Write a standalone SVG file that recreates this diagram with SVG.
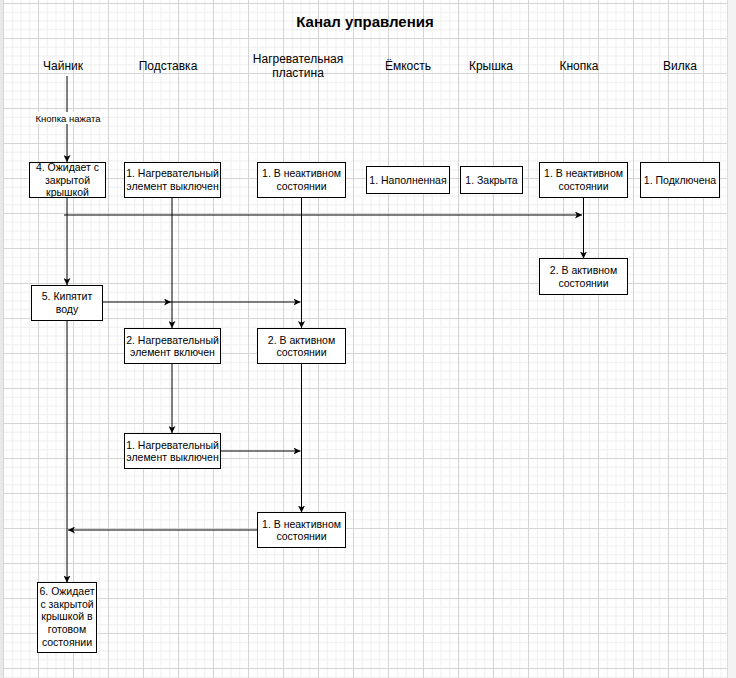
<svg xmlns="http://www.w3.org/2000/svg" width="736" height="678" viewBox="0 0 736 678">
  <style>
    text { font-family: "Liberation Sans", Arial, sans-serif; fill: #000; }
    .title { font-size: 15px; font-weight: bold; text-anchor: middle; }
    .lane { font-size: 12px; text-anchor: middle; }
    .box rect { fill: #fff; stroke: #000; stroke-width: 1; }
    .box text { font-size: 10.5px; text-anchor: middle; }
    .edge { fill: none; stroke: #000; stroke-width: 1; marker-end: url(#arrow); }
    .lbl { font-size: 9.5px; text-anchor: middle; }
  </style>
  <defs>
    <pattern id="grid" x="3" y="3" width="35" height="35" patternUnits="userSpaceOnUse">
      <path d="M9.25,0 V35 M18,0 V35 M26.75,0 V35 M0,9.25 H35 M0,18 H35 M0,26.75 H35" stroke="#efefef" stroke-width="1" fill="none"/>
      <path d="M0.5,0 V35 M0,0.5 H35" stroke="#d4d4d4" stroke-width="1" fill="none"/>
    </pattern>
    <marker id="arrow" viewBox="0 0 8 7" refX="7" refY="3.5" markerWidth="8" markerHeight="7" markerUnits="userSpaceOnUse" orient="auto">
      <path d="M0,0 L7,3.5 L0,7 L1.8,3.5 Z" fill="#000"/>
    </marker>
  </defs>

  <!-- canvas with grid -->
  <rect x="0" y="0" width="736" height="678" fill="#fff"/>
  <rect x="3" y="0" width="725" height="678" fill="url(#grid)"/>
  <rect x="0" y="0" width="3" height="678" fill="#e9e9e9"/>
  <rect x="728" y="0" width="8" height="678" fill="#f3f3f3"/>
  <line x1="727.5" y1="0" x2="727.5" y2="678" stroke="#dcdcdc"/>

  <text class="title" x="365" y="27">Канал управления</text>

  <!-- lane headers -->
  <g id="lanes">
    <text class="lane" x="63" y="70">Чайник</text>
    <text class="lane" x="168" y="70">Подставка</text>
    <text class="lane" x="298" y="63">Нагревательная</text>
    <text class="lane" x="298" y="77">пластина</text>
    <text class="lane" x="408" y="70">Ёмкость</text>
    <text class="lane" x="491" y="70">Крышка</text>
    <text class="lane" x="579" y="70">Кнопка</text>
    <text class="lane" x="680" y="70">Вилка</text>
  </g>

  <!-- connectors -->
  <g id="connectors">
    <path class="edge" d="M67,76 V162"/>
    <path class="edge" d="M67,198 V285"/>
    <path class="edge" d="M64,215 H582"/>
    <path class="edge" d="M583.5,198 V258.5"/>
    <path class="edge" d="M172,198 V328"/>
    <path class="edge" d="M301.5,198 V328"/>
    <path class="edge" d="M102.5,302 H171"/>
    <path class="edge" d="M171,302 H300.5"/>
    <path class="edge" d="M67,320.5 V582.5"/>
    <path class="edge" d="M172,364 V433"/>
    <path class="edge" d="M220.5,451 H300.5"/>
    <path class="edge" d="M301.5,364 V512.5"/>
    <path class="edge" d="M257.5,530 H68" stroke-width="1.4"/>
    <rect x="36" y="112" width="64" height="12" fill="#fff"/>
    <text class="lbl" x="68" y="121.5">Кнопка нажата</text>
  </g>

  <!-- nodes -->
  <g id="kettle-waiting" class="box">
    <rect x="29.5" y="162.5" width="76" height="35"/>
    <text x="67.5" y="171.1">4. Ожидает с</text>
    <text x="67.5" y="183.6">закрытой</text>
    <text x="67.5" y="196.1">крышкой</text>
  </g>
  <g id="stand-off-1" class="box">
    <rect x="124.5" y="162.5" width="96" height="35"/>
    <text x="172.5" y="177.4">1. Нагревательный</text>
    <text x="172.5" y="189.9">элемент выключен</text>
  </g>
  <g id="plate-inactive-1" class="box">
    <rect x="257.5" y="162.5" width="88" height="35"/>
    <text x="301.5" y="177.4">1. В неактивном</text>
    <text x="301.5" y="189.9">состоянии</text>
  </g>
  <g id="vessel-full" class="box">
    <rect x="366.5" y="166.5" width="83" height="27"/>
    <text x="408" y="183.7">1. Наполненная</text>
  </g>
  <g id="lid-closed" class="box">
    <rect x="460.5" y="166.5" width="62" height="27"/>
    <text x="491.5" y="183.7">1. Закрыта</text>
  </g>
  <g id="button-inactive" class="box">
    <rect x="539.5" y="162.5" width="88" height="35"/>
    <text x="583.5" y="177.4">1. В неактивном</text>
    <text x="583.5" y="189.9">состоянии</text>
  </g>
  <g id="plug-connected" class="box">
    <rect x="640.5" y="162.5" width="79" height="35"/>
    <text x="680" y="183.7">1. Подключена</text>
  </g>
  <g id="button-active" class="box">
    <rect x="539.5" y="258.5" width="88" height="36"/>
    <text x="583.5" y="274">2. В активном</text>
    <text x="583.5" y="286.5">состоянии</text>
  </g>
  <g id="kettle-boiling" class="box">
    <rect x="31.5" y="285.5" width="71" height="35"/>
    <text x="67" y="300">5. Кипятит</text>
    <text x="67" y="312.5">воду</text>
  </g>
  <g id="stand-on" class="box">
    <rect x="124.5" y="328.5" width="96" height="35"/>
    <text x="172.5" y="343.5">2. Нагревательный</text>
    <text x="172.5" y="356">элемент включен</text>
  </g>
  <g id="plate-active" class="box">
    <rect x="257.5" y="328.5" width="88" height="35"/>
    <text x="301.5" y="343.5">2. В активном</text>
    <text x="301.5" y="356">состоянии</text>
  </g>
  <g id="stand-off-2" class="box">
    <rect x="124.5" y="433.5" width="96" height="35"/>
    <text x="172.5" y="448.5">1. Нагревательный</text>
    <text x="172.5" y="461">элемент выключен</text>
  </g>
  <g id="plate-inactive-2" class="box">
    <rect x="257.5" y="512.5" width="88" height="35"/>
    <text x="301.5" y="527.5">1. В неактивном</text>
    <text x="301.5" y="540">состоянии</text>
  </g>
  <g id="kettle-ready" class="box">
    <rect x="37.5" y="582.5" width="59" height="70"/>
    <text x="67" y="595.2">6. Ожидает</text>
    <text x="67" y="607.8">с закрытой</text>
    <text x="67" y="620.4">крышкой в</text>
    <text x="67" y="633">готовом</text>
    <text x="67" y="645.6">состоянии</text>
  </g>
</svg>
